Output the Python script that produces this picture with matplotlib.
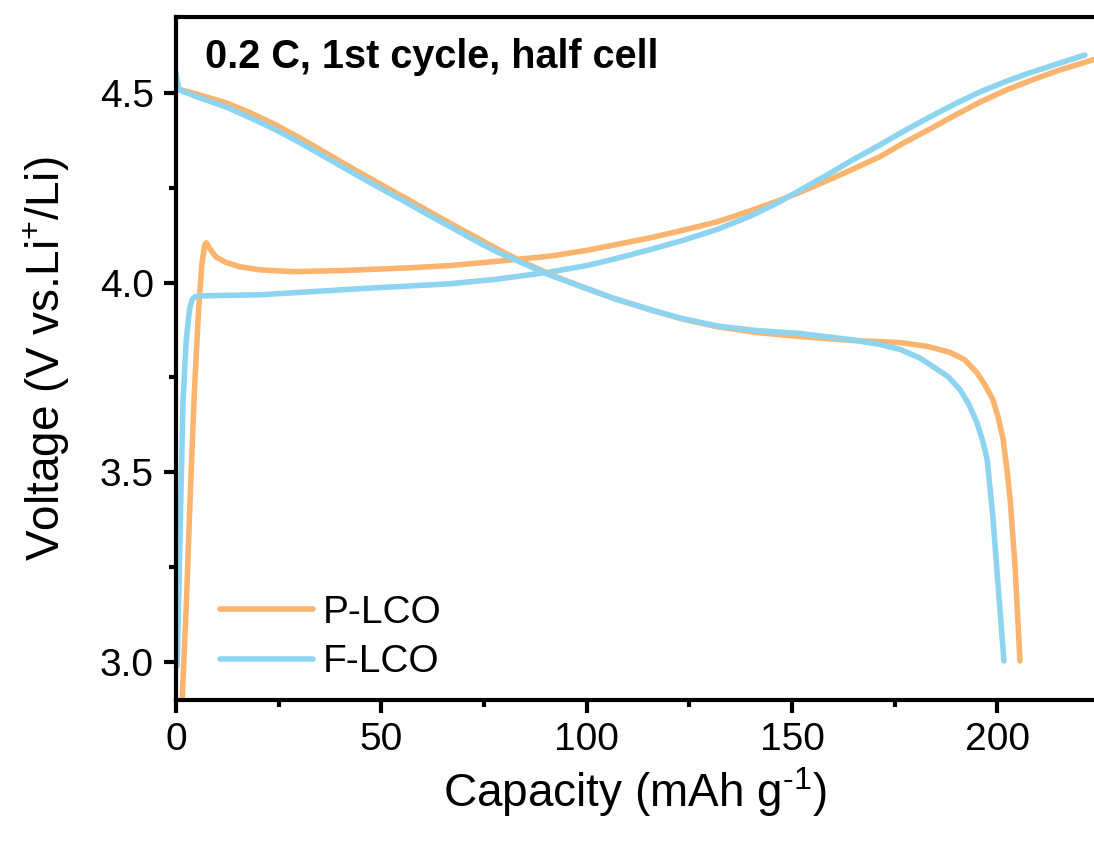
import matplotlib
matplotlib.use("Agg")
import matplotlib.pyplot as plt
from matplotlib.ticker import MultipleLocator

plt.rcParams['font.family'] = ['Liberation Sans', 'DejaVu Sans']
plt.rcParams['mathtext.fontset'] = 'custom'
plt.rcParams['mathtext.rm'] = 'Liberation Sans'
plt.rcParams['mathtext.it'] = 'Liberation Sans'

# P-LCO, charge
p_chg_cap = [1.5, 2.5, 3.5, 4.5, 5.5, 6.3, 7.0, 7.4, 8.2, 9.7, 12.2, 15.5, 20.2, 28.5, 40.7,
             56.7, 66.7, 78, 91.1, 100, 107, 115.4, 123, 131.7, 140, 147, 153, 159.2, 165,
             171.4, 177, 183.6, 190, 195.8, 202, 207.9, 215, 223.5]
p_chg_v = [2.90, 3.15, 3.45, 3.72, 3.93, 4.05, 4.10, 4.105, 4.09, 4.068, 4.053, 4.042, 4.034,
           4.029, 4.032, 4.039, 4.045, 4.056, 4.07, 4.085, 4.1, 4.118, 4.137, 4.16, 4.19,
           4.217, 4.243, 4.272, 4.3, 4.332, 4.367, 4.405, 4.443, 4.476, 4.507, 4.532, 4.56,
           4.588]

# F-LCO, charge
f_chg_cap = [0.3, 1.0, 1.7, 2.5, 3.3, 3.9, 4.6, 6, 10, 20.5, 44.8, 66.7, 78, 91.1, 100, 107,
             115.4, 123, 131.7, 140, 147, 153, 159.2, 165, 171.4, 177, 183.6, 190, 195.8,
             202, 207.9, 215, 221.3]
f_chg_v = [2.99, 3.35, 3.69, 3.85, 3.93, 3.955, 3.963, 3.965, 3.966, 3.968, 3.984, 3.997,
           4.009, 4.028, 4.045, 4.063, 4.087, 4.11, 4.14, 4.176, 4.213, 4.25, 4.288, 4.325,
           4.363, 4.398, 4.437, 4.473, 4.503, 4.53, 4.553, 4.578, 4.6]

# P-LCO, discharge
p_dis_cap = [0, 0.5, 5, 12.2, 18, 24.3, 30, 36.5, 42, 48.7, 55, 60.9, 67, 73.0, 78, 83.0,
             91, 99.1, 107, 115.4, 123, 131.7, 141, 151.9, 164.1, 176.3, 183, 188.5, 192,
             195.0, 197, 198.9, 200.2, 201.4, 202.3, 203.1, 204.3, 205.5]
p_dis_v = [4.52, 4.51, 4.497, 4.474, 4.448, 4.416, 4.382, 4.342, 4.307, 4.266, 4.228, 4.192,
           4.155, 4.12, 4.09, 4.062, 4.022, 3.988, 3.957, 3.929, 3.905, 3.884, 3.869, 3.858,
           3.848, 3.842, 3.832, 3.816, 3.797, 3.763, 3.73, 3.692, 3.645, 3.587, 3.51, 3.429,
           3.253, 3.003]

# F-LCO, discharge
f_dis_cap = [0, 0.3, 0.8, 5, 12.2, 18, 24.3, 30, 36.5, 42, 48.7, 55, 60.9, 67, 73.0, 78,
             83.0, 91, 99.1, 107, 115.4, 123, 131.7, 141, 151.9, 164.1, 171, 176.3, 181,
             184.3, 188, 190.9, 193, 195.0, 196.5, 197.5, 198.9, 200.1, 201.6]
f_dis_v = [4.553, 4.53, 4.508, 4.49, 4.463, 4.435, 4.403, 4.37, 4.33, 4.296, 4.255, 4.218,
           4.182, 4.146, 4.11, 4.082, 4.058, 4.02, 3.988, 3.957, 3.929, 3.906, 3.886, 3.874,
           3.866, 3.85, 3.838, 3.824, 3.802, 3.779, 3.752, 3.718, 3.68, 3.632, 3.58, 3.534,
           3.384, 3.211, 3.003]

orange = '#FBB46E'
blue = '#8DD4F0'

fig = plt.figure(figsize=(10.94, 8.41), dpi=100)
ax = fig.add_axes([0.1609, 0.1677, 0.839, 0.812])

lw = 4
ax.plot(p_chg_cap, p_chg_v, color=orange, lw=lw, label='P-LCO', solid_capstyle='round')
ax.plot(f_chg_cap, f_chg_v, color=blue, lw=lw, label='F-LCO', solid_capstyle='round')
ax.plot(p_dis_cap, p_dis_v, color=orange, lw=lw, solid_capstyle='round')
ax.plot(f_dis_cap, f_dis_v, color=blue, lw=lw, solid_capstyle='round')

ax.set_xlim(0, 223.5)
ax.set_ylim(2.9, 4.7)
ax.xaxis.set_major_locator(MultipleLocator(50))
ax.xaxis.set_minor_locator(MultipleLocator(25))
ax.yaxis.set_major_locator(MultipleLocator(0.5))
ax.yaxis.set_minor_locator(MultipleLocator(0.25))

for s in ['left', 'bottom', 'top']:
    ax.spines[s].set_linewidth(3)
ax.spines['right'].set_visible(False)
ax.tick_params(which='major', direction='out', length=9, width=3, labelsize=28, pad=7)
ax.tick_params(which='minor', direction='out', length=5, width=3)
ax.tick_params(top=False, right=False, which='both')

ax.set_xlabel('Capacity (mAh g$^{\u2010 1}$)', fontsize=33, labelpad=5)
ax.set_ylabel('Voltage (V vs.Li$^{+}$/Li)', fontsize=33, labelpad=20)

ax.text(0.032, 0.97, '0.2 C, 1st cycle, half cell', transform=ax.transAxes,
        fontsize=28.5, fontweight='bold', va='top', ha='left')

ax.legend(loc='upper left', bbox_to_anchor=(0.048, 0.154), frameon=False, fontsize=28,
          handlelength=2.4, handletextpad=0.25, labelspacing=0.35, borderpad=0,
          borderaxespad=0)

fig.savefig('out.png', dpi=100)
